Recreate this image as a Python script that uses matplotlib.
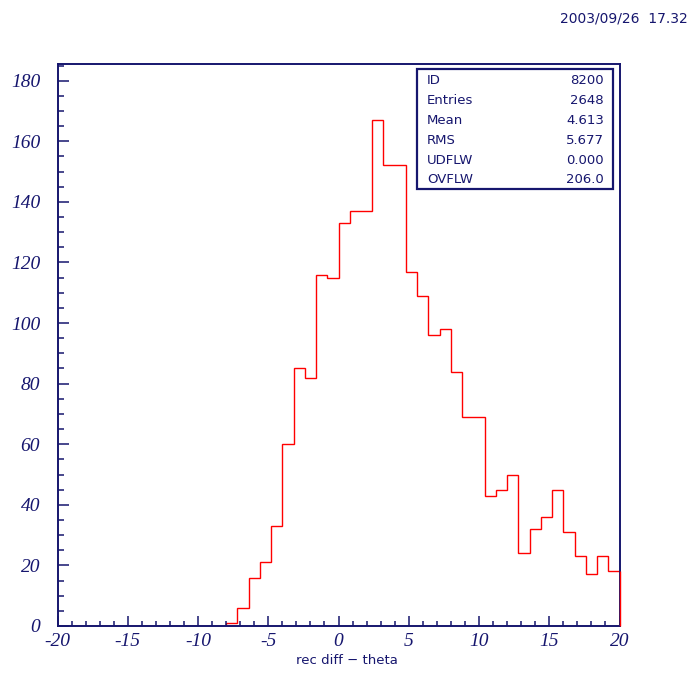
import numpy as np
import matplotlib
matplotlib.use("Agg")
import matplotlib.pyplot as plt
from matplotlib.patches import Rectangle
from matplotlib.ticker import MultipleLocator

# histogram 8200: 50 bins of 0.8 from -20 to 20
x_low, x_high, n_bins = -20.0, 20.0, 50
counts = [0] * 15 + [
    1, 6, 16, 21, 33, 60, 85, 82, 116, 115,
    133, 137, 137, 167, 152, 152, 117, 109, 96, 98,
    84, 69, 69, 43, 45, 50, 24, 32, 36, 45,
    31, 23, 17, 23, 18,
]
stat_names = ["ID", "Entries", "Mean", "RMS", "UDFLW", "OVFLW"]
stat_values = ["8200", "2648", "4.613", "5.677", "0.000", "206.0"]
x_title = "rec diff \u2212 theta"
date_text = "2003/09/26  17.32"

NAVY = "#16166e"
W, H = 691, 673

plt.rcParams["axes.unicode_minus"] = False

def fx(px):
    return px / W

def fy(py):
    # pixel rows are counted from the top
    return 1 - py / H

fig = plt.figure(figsize=(W / 100, H / 100), dpi=100)
ax = fig.add_axes([fx(57.5), fy(626), fx(619.5) - fx(57.5), fy(64) - fy(626)])

edges = np.linspace(x_low, x_high, n_bins + 1)
ax.stairs(counts, edges, color="red", linewidth=1.0, baseline=0, zorder=1)
# closing edge of the last bin sits on top of the frame, as in PAW
ax.vlines(edges[-1], 0, counts[-1], color="red", linewidth=1.0, zorder=3, clip_on=False)

ax.set_xlim(x_low, x_high)
ax.set_ylim(0, 185.5)

ax.xaxis.set_major_locator(MultipleLocator(5))
ax.xaxis.set_minor_locator(MultipleLocator(1))
ax.yaxis.set_major_locator(MultipleLocator(20))
ax.yaxis.set_minor_locator(MultipleLocator(5))

for s in ax.spines.values():
    s.set_color(NAVY)
    s.set_linewidth(1.4)

ax.tick_params(axis="both", which="both", direction="in", color=NAVY, width=1.1,
               labelcolor=NAVY, top=False, right=False)
ax.tick_params(axis="y", which="major", length=7.7, pad=12.5)
ax.tick_params(axis="y", which="minor", length=4)
ax.tick_params(axis="x", which="major", length=7.2, pad=5)
ax.tick_params(axis="x", which="minor", length=3.4)

for lab in ax.get_xticklabels() + ax.get_yticklabels():
    lab.set_fontfamily("Liberation Serif")
    lab.set_fontstyle("italic")
    lab.set_fontsize(14)

fig.text(fx(347), fy(661), x_title, color=NAVY, fontsize=9.5,
         family="DejaVu Sans", ha="center", va="center")
fig.text(fx(688), fy(18), date_text, color=NAVY, fontsize=10,
         family="DejaVu Sans", ha="right", va="center")

# statistics box
box = Rectangle((fx(417), fy(189)), fx(613) - fx(417), fy(69) - fy(189),
                transform=fig.transFigure, fill=True, facecolor="white",
                edgecolor=NAVY, linewidth=1.6, zorder=5)
fig.add_artist(box)
row_y = [81, 101, 120.5, 140, 160, 180]
for name, val, yy in zip(stat_names, stat_values, row_y):
    fig.text(fx(427), fy(yy), name, color=NAVY, fontsize=9.5,
             family="DejaVu Sans", ha="left", va="center", zorder=6)
    fig.text(fx(604), fy(yy), val, color=NAVY, fontsize=9.5,
             family="DejaVu Sans", ha="right", va="center", zorder=6)

fig.savefig("out.png", dpi=100)
